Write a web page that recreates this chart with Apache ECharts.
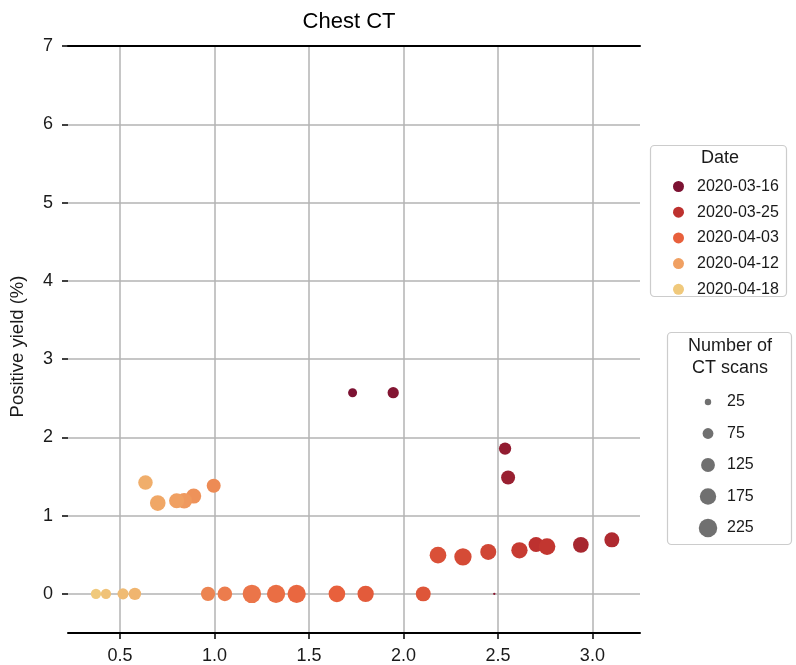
<!DOCTYPE html>
<html>
<head>
<meta charset="utf-8">
<title>Chest CT</title>
<script src="https://cdn.jsdelivr.net/npm/echarts@6/dist/echarts.min.js"></script>
<style>
  html, body { margin: 0; padding: 0; background: #ffffff; }
  #chart { width: 796px; height: 665px; }
</style>
</head>
<body>
<div id="chart"></div>
<script>
// One point per day: date, x value, positive yield (%), number of CT scans
const pointDates = [
  '2020-03-16', '2020-03-17', '2020-03-18', '2020-03-19', '2020-03-20',
  '2020-03-22', '2020-03-23', '2020-03-25', '2020-03-26', '2020-03-27',
  '2020-03-29', '2020-03-30', '2020-03-31', '2020-04-01', '2020-04-02',
  '2020-04-03', '2020-04-04', '2020-04-05', '2020-04-06', '2020-04-07',
  '2020-04-08', '2020-04-09', '2020-04-10', '2020-04-11', '2020-04-12',
  '2020-04-13', '2020-04-14', '2020-04-15', '2020-04-16', '2020-04-17',
  '2020-04-18'
];
const xValues = [
  1.731, 1.946, 2.481, 2.538, 2.554,
  2.939, 3.103, 2.702, 2.760, 2.614,
  2.449, 2.315, 2.183, 2.105, 1.800,
  1.648, 1.435, 1.326, 1.198, 1.055,
  0.966, 0.996, 0.890, 0.840, 0.800,
  0.700, 0.635, 0.579, 0.516, 0.426,
  0.373
];
const yieldValues = [
  2.57, 2.57, 0.00, 1.856, 1.486,
  0.626, 0.69, 0.63, 0.604, 0.556,
  0.536, 0.473, 0.494, 0.00, 0.00,
  0.00, 0.00, 0.00, 0.00, 0.00,
  0.00, 1.382, 1.25, 1.19, 1.19,
  1.16, 1.422, 0.00, 0.00, 0.00,
  0.00
];
const scanCounts = [
  51, 82, 1, 98, 128,
  161, 147, 147, 183, 175,
  168, 197, 183, 147, 175,
  183, 220, 220, 225, 140,
  134, 128, 150, 160, 150,
  160, 137, 101, 80, 68,
  68
];

// Legend entries
const legendDates = ['2020-03-16', '2020-03-25', '2020-04-03', '2020-04-12', '2020-04-18'];
const legendSizes = [25, 75, 125, 175, 225];

// Axis ticks
const xTicks = [0.5, 1.0, 1.5, 2.0, 2.5, 3.0];
const yTicks = [0, 1, 2, 3, 4, 5, 6, 7];

// Colour ramp anchored on the legend dates
const legendColors = ['#7c1232', '#bd312f', '#e8603c', '#f0a062', '#f0c97c'];

const DAY = 86400000;
const dayIndex = (d) => Math.round((Date.parse(d) - Date.parse(legendDates[0])) / DAY);
const stopDays = legendDates.map(dayIndex);

function hexToRgb(h) {
  return [1, 3, 5].map(i => parseInt(h.substr(i, 2), 16));
}
function colorForDay(day) {
  if (day <= stopDays[0]) return legendColors[0];
  for (let i = 1; i < stopDays.length; i++) {
    if (day <= stopDays[i]) {
      const t = (day - stopDays[i - 1]) / (stopDays[i] - stopDays[i - 1]);
      const a = hexToRgb(legendColors[i - 1]);
      const b = hexToRgb(legendColors[i]);
      const c = a.map((v, k) => Math.round(v + (b[k] - v) * t));
      return 'rgb(' + c.join(',') + ')';
    }
  }
  return legendColors[legendColors.length - 1];
}

// Marker area grows linearly with the number of scans
const sizeForCount = (n) => Math.sqrt(4 + 1.5 * n);

const FONT = "'Liberation Sans', Arial, sans-serif";

const pointData = xValues.map((x, i) => [x, yieldValues[i], scanCounts[i], dayIndex(pointDates[i])]);

const legendSeries = legendDates.map((d, i) => ({
  name: d,
  type: 'scatter',
  data: [],
  itemStyle: { color: legendColors[i], opacity: 1 }
}));

// Size legend drawn as graphic elements
const sizeLegendTop = 402;
const sizeLegendStep = 31.5;
const sizeLegendItems = [];
legendSizes.forEach((s, i) => {
  const cy = sizeLegendTop + i * sizeLegendStep;
  sizeLegendItems.push({
    type: 'circle',
    shape: { cx: 708, cy: cy, r: sizeForCount(s) / 2 },
    style: { fill: '#707070' },
    z: 10
  });
  sizeLegendItems.push({
    type: 'text',
    x: 727, y: cy,
    style: { text: String(s), font: '16px ' + FONT, fill: '#1a1a1a', verticalAlign: 'middle', align: 'left' },
    z: 10
  });
});

const chart = echarts.init(document.getElementById('chart'), null, { renderer: 'canvas' });

chart.setOption({
  animation: false,
  backgroundColor: '#ffffff',
  title: {
    text: 'Chest CT',
    left: 344,
    top: 6,
    textAlign: 'center',
    textStyle: { fontFamily: FONT, fontSize: 22, fontWeight: 'normal', color: '#000000' }
  },
  grid: { left: 68, right: 156, top: 46, bottom: 32, containLabel: false, outerBoundsMode: 'none' },
  xAxis: [
    {
      type: 'value',
      position: 'bottom',
      min: 0.225,
      max: 3.252,
      axisLine: { show: true, onZero: false, lineStyle: { color: '#000000', width: 2 } },
      axisTick: { show: true, length: 6, customValues: xTicks, lineStyle: { color: '#000000', width: 1.5 } },
      axisLabel: {
        customValues: xTicks,
        formatter: (v) => v.toFixed(1),
        fontFamily: FONT, fontSize: 18, color: '#1a1a1a', margin: 14
      },
      splitLine: { show: true, lineStyle: { color: '#b3b3b3', width: 1.5 } }
    },
    {
      type: 'value',
      position: 'top',
      min: 0.225,
      max: 3.252,
      axisLine: { show: true, onZero: false, lineStyle: { color: '#000000', width: 2 } },
      axisTick: { show: false },
      axisLabel: { show: false },
      splitLine: { show: false }
    }
  ],
  yAxis: {
    type: 'value',
    min: -0.5,
    max: 7,
    name: 'Positive yield (%)',
    nameLocation: 'middle',
    nameRotate: 90,
    nameGap: 41,
    nameTextStyle: { fontFamily: FONT, fontSize: 18.5, color: '#1a1a1a', padding: [0, 14, 0, 0] },
    axisLine: { show: false },
    axisTick: { show: true, length: 6, customValues: yTicks, lineStyle: { color: '#000000', width: 1.5 } },
    axisLabel: {
      customValues: yTicks,
      fontFamily: FONT, fontSize: 18, color: '#1a1a1a', margin: 15
    },
    splitLine: { show: true, lineStyle: { color: '#b3b3b3', width: 1.5 } }
  },
  legend: {
    data: legendDates,
    orient: 'vertical',
    left: 668,
    top: 172.5,
    icon: 'circle',
    itemWidth: 11,
    itemHeight: 11,
    itemGap: 7.7,
    z: 10,
    textStyle: { fontFamily: FONT, fontSize: 16, color: '#1a1a1a', lineHeight: 18, padding: [0, 0, 0, 8] },
    selectedMode: false
  },
  graphic: [
    {
      type: 'rect',
      shape: { x: 650.5, y: 145.5, width: 136, height: 151, r: 4 },
      style: { fill: '#ffffff', stroke: '#cccccc', lineWidth: 1.2 },
      z: 1
    },
    {
      type: 'text',
      x: 720, y: 158,
      style: { text: 'Date', font: '18px ' + FONT, fill: '#1a1a1a', align: 'center', verticalAlign: 'middle' },
      z: 10
    },
    {
      type: 'rect',
      shape: { x: 667.5, y: 332.5, width: 124, height: 212, r: 4 },
      style: { fill: '#ffffff', stroke: '#cccccc', lineWidth: 1.2 },
      z: 1
    },
    {
      type: 'text',
      x: 730, y: 346,
      style: { text: 'Number of', font: '18px ' + FONT, fill: '#1a1a1a', align: 'center', verticalAlign: 'middle' },
      z: 10
    },
    {
      type: 'text',
      x: 730, y: 368,
      style: { text: 'CT scans', font: '18px ' + FONT, fill: '#1a1a1a', align: 'center', verticalAlign: 'middle' },
      z: 10
    }
  ].concat(sizeLegendItems),
  series: [
    {
      name: 'Chest CT',
      type: 'scatter',
      xAxisIndex: 0,
      data: pointData,
      symbolSize: (val) => sizeForCount(val[2]),
      itemStyle: {
        opacity: 1,
        color: (p) => colorForDay(p.data[3])
      },
      z: 3
    }
  ].concat(legendSeries)
});
</script>
</body>
</html>
